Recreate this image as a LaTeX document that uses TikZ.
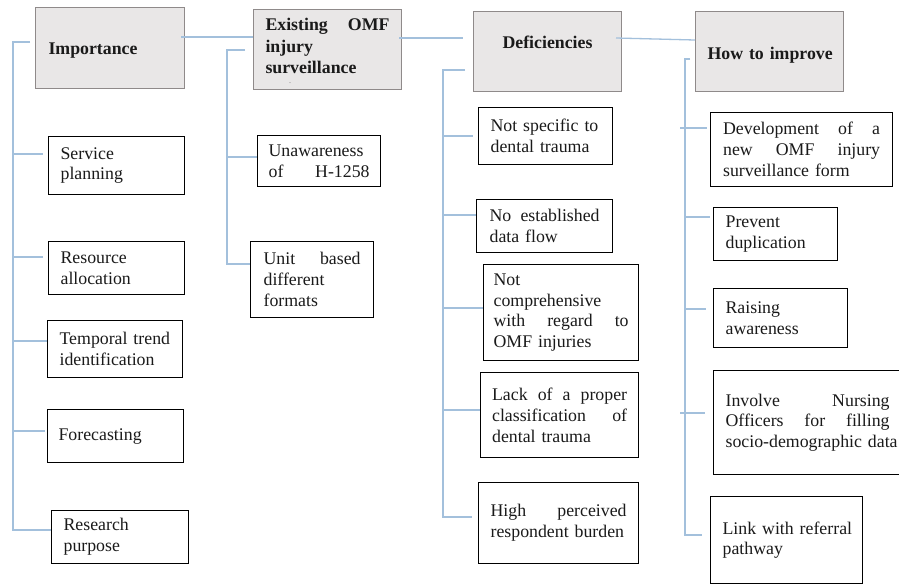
\documentclass[tikz,border=0pt]{standalone}
\usepackage{fontspec}
\setmainfont{Liberation Serif}
\usetikzlibrary{calc}
\definecolor{connblue}{HTML}{A3C0DC}
\definecolor{hdrfill}{HTML}{E9E7E7}
\definecolor{hdrdraw}{HTML}{8F8A8A}
\definecolor{txt}{HTML}{1A1A1A}
\hfuzz=30pt
\hyphenpenalty=10000
\exhyphenpenalty=10000
\newcommand{\keepline}[1]{\mbox{#1}}
\begin{document}
\begin{tikzpicture}[x=1pt,y=-1pt,
  hdr/.style={draw=hdrdraw, fill=hdrfill, line width=1pt, anchor=north west, inner ysep=0pt,
    font=\fontsize{17.8}{21.5}\selectfont\bfseries, align=left, text=txt},
  box/.style={draw=black, line width=1.2pt, anchor=north west, inner ysep=0pt,
    font=\fontsize{17.8}{20.8}\selectfont, align=left, text=txt},
  conn/.style={draw=connblue, line width=1.3pt}]
\path[fill=white] (0,0) rectangle (899,584);
\useasboundingbox (0,0) rectangle (899,584);

% ---------- headers ----------
\node[hdr, inner xsep=13pt, text width=123pt, minimum width=149pt, minimum height=81pt, text height=17.6pt] (imp) at (35,7) {Importance};
\node[hdr, inner xsep=12pt, text width=124pt, minimum width=148pt, minimum height=80pt, text depth=50pt] (omf) at (253,9) {Existing\hfill OMF\\injury\\surveillance};
\node[font=\fontsize{6}{6}\selectfont, inner sep=0pt, text=txt] (dot) at (290,83) {.};
\node[hdr, align=center, minimum width=148pt, minimum height=80pt, text depth=19pt] (def) at (473,11) {Deficiencies};
\node[hdr, inner xsep=12pt, text width=124pt, minimum width=148pt, minimum height=80pt, text height=20pt] (how) at (695,11) {\keepline{How to improve}};

% ---------- Importance children ----------
\node[box, inner xsep=12pt, text width=112pt, minimum width=136pt, minimum height=58pt] (sp) at (48,136) {Service\\planning};
\node[box, inner xsep=12pt, text width=112pt, minimum width=136pt, minimum height=53pt] (ra) at (48,241) {Resource\\allocation};
\node[box, inner xsep=12pt, text width=111pt, minimum width=135pt, minimum height=57pt] (tt) at (47,320) {\keepline{Temporal trend}\\identification};
\node[box, inner xsep=11pt, text width=114pt, minimum width=136pt, minimum height=53pt] (fc) at (47,409) {Forecasting};
\node[box, inner xsep=12pt, text width=113pt, minimum width=137pt, minimum height=53pt] (rp) at (51,510) {Research\\purpose};

% ---------- Existing children ----------
\node[box, inner xsep=11pt, text width=101pt, minimum width=123pt, minimum height=51pt] (un) at (257,135) {Unawareness\\of\hfill H-1258};
\node[box, inner xsep=13pt, text width=97pt, minimum width=123pt, minimum height=76pt] (ub) at (250,241) {Unit\hfill based\\different\\formats};

% ---------- Deficiencies children ----------
\node[box, inner xsep=12pt, text width=110pt, minimum width=134pt, minimum height=57pt] (ns) at (478,107) {\keepline{Not specific to}\\\keepline{dental trauma}};
\node[box, inner xsep=13pt, text width=110pt, minimum width=136pt, minimum height=53pt] (ne) at (476,199) {No\hfill established\\\keepline{data flow}};
\node[box, inner xsep=10pt, text width=135pt, minimum width=155pt, minimum height=96pt] (nc) at (483,264) {Not\\comprehensive\\with\hfill regard\hfill to\\\keepline{OMF injuries}};
\node[box, inner xsep=11.5pt, text width=135pt, minimum width=158pt, minimum height=85pt] (lk) at (480,372) {Lack\hfill of\hfill a\hfill proper\\classification\hfill of\\\keepline{dental trauma}};
\node[box, inner xsep=12pt, text width=136pt, minimum width=160pt, minimum height=81pt] (hp) at (478,482) {High\hfill perceived\\\keepline{respondent burden}};

% ---------- How to improve children ----------
\node[box, inner xsep=12.5pt, text width=157pt, minimum width=182pt, minimum height=74pt] (dv) at (710,112) {Development\hfill of\hfill a\\new\hfill OMF\hfill injury\\\keepline{surveillance form}};
\node[box, inner xsep=12pt, text width=100pt, minimum width=124pt, minimum height=53pt] (pd) at (713,207) {Prevent\\duplication};
\node[box, inner xsep=12pt, text width=110pt, minimum width=134pt, minimum height=59pt] (rw) at (713,288) {Raising\\awareness};
\node[box, inner xsep=12pt, text width=164pt, minimum width=188pt, minimum height=104pt] (iv) at (713,370) {Involve\hfill Nursing\\Officers\hfill for\hfill filling\\\keepline{socio-demographic data}};
\node[box, inner xsep=12pt, text width=128pt, minimum width=152pt, minimum height=87pt] (lr) at (710,496) {\keepline{Link with referral}\\pathway};

% ---------- header connectors ----------
\draw[conn] ($(imp.north east)+(-4,30)$) -- ($(omf.north west)+(0,28)$);
\draw[conn] ($(omf.north east)+(-3,29)$) -- ($(def.north west)+(-10,27)$);
\draw[conn] ($(def.north east)+(-6,27)$) -- ($(how.north west)+(0,29)$);

% ---------- Importance trunk ----------
\coordinate (it0) at ($(imp.north west)+(-5,35)$);
\coordinate (it1) at (13,42);
\coordinate (ie) at ($(rp.north west)+(0,20)$);
\draw[conn] (it0) -- (it1) |- (ie);
\foreach \n/\dx/\dy in {sp/-5/18, ra/-5/16, tt/0/21, fc/-2/22}{
  \coordinate (\n-in) at ($(\n.north west)+(\dx,\dy)$);
  \draw[conn] (\n-in -| it1) -- (\n-in);
}

% ---------- Existing trunk ----------
\coordinate (et0) at ($(omf.north west)+(-8,41)$);
\coordinate (et1) at (227,50);
\coordinate (ee) at ($(ub.north west)+(0,23)$);
\draw[conn] (et0) -- (et1) |- (ee);
\coordinate (un-in) at ($(un.north west)+(0,22)$);
\draw[conn] (un-in -| et1) -- (un-in);

% ---------- Deficiencies trunk ----------
\coordinate (dt0) at ($(def.north west)+(-8,59)$);
\coordinate (dt1) at (443,70);
\coordinate (de) at ($(hp.north west)+(-6,35)$);
\draw[conn] (dt0) -- (dt1) |- (de);
\foreach \n/\dx/\dy in {ns/-5/29, ne/0/16, nc/0/44, lk/0/38}{
  \coordinate (\n-in) at ($(\n.north west)+(\dx,\dy)$);
  \draw[conn] (\n-in -| dt1) -- (\n-in);
}

% ---------- How trunk ----------
\coordinate (ht0) at ($(how.north west)+(-5,48)$);
\coordinate (ht1) at (685,59);
\coordinate (he) at ($(lr.north west)+(-8,39)$);
\draw[conn] (ht0) -- (ht1) |- (he);
\coordinate (dv-in) at ($(dv.north west)+(-3,16)$);
\draw[conn] ($(dv-in -| ht1)+(-5,0)$) -- (dv-in);
\coordinate (pd-in) at ($(pd.north west)+(-3,10)$);
\draw[conn] (pd-in -| ht1) -- (pd-in);
\coordinate (rw-in) at ($(rw.north west)+(-7,21)$);
\draw[conn] (rw-in -| ht1) -- (rw-in);
\coordinate (iv-in) at ($(iv.north west)+(-8,43)$);
\draw[conn] ($(iv-in -| ht1)+(-5,0)$) -- (iv-in);
\end{tikzpicture}
\end{document}
